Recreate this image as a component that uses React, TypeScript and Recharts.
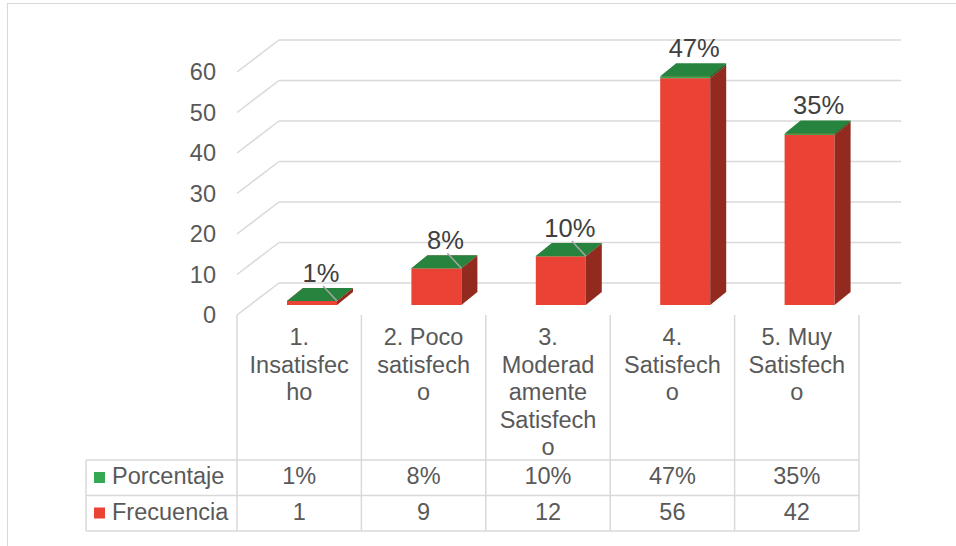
import { BarChart, Bar, XAxis, YAxis, CartesianGrid, LabelList } from "recharts";

// ── Data ──────────────────────────────────────────────────────────
const CATEGORIES = [
  "1. Insatisfecho",
  "2. Poco satisfecho",
  "3. Moderadamente Satisfecho",
  "4. Satisfecho",
  "5. Muy Satisfecho",
];
// category text as it wraps inside the data-table header cells
const CATEGORY_LINES = [
  ["1.", "Insatisfec", "ho"],
  ["2. Poco", "satisfech", "o"],
  ["3.", "Moderad", "amente", "Satisfech", "o"],
  ["4.", "Satisfech", "o"],
  ["5. Muy", "Satisfech", "o"],
];
const FRECUENCIA = [1, 9, 12, 56, 42];
const PORCENTAJE = [0.01, 0.08, 0.1, 0.47, 0.35];
const Y_TICKS = [0, 10, 20, 30, 40, 50, 60];

const data = CATEGORIES.map((name, i) => ({
  name,
  frecuencia: FRECUENCIA[i],
  porcentaje: PORCENTAJE[i],
}));

// ── Layout / style ────────────────────────────────────────────────
const W = 956;
const H = 546;
const PLOT_LEFT = 237;
const PLOT_RIGHT = 859;
const PLOT_TOP = 72;
const PLOT_BOTTOM = 315;
const COL_W = (PLOT_RIGHT - PLOT_LEFT) / CATEGORIES.length;
const LEGEND_W = 151;

const FONT = "'Liberation Sans', Arial, sans-serif";
const TEXT = "#595959";
const LINE = "#D9D9D9";
const FS = 23.5;

// oblique 3D projection: full floor depth, bar front offset, bar depth
const WALL = { x: 42, y: -32 };
const FRONT = { x: 13, y: -10 };
const DEPTH = { x: 16, y: -13 };

const RED = "#EA4335";
const RED_SIDE = "#932A20";
const GREEN = "#34A853";
const GREEN_SIDE = "#1E6330";
const GREEN_TOP = "#27843E";

// labels that keep a leader line to their column
const LEADER_INDEX = [0, 1, 2];

const pct = (v: number) => `${Math.round(v * 100)}%`;

// ── 3D column box ─────────────────────────────────────────────────
function makeBox(face: string, side: string, top: string) {
  return (props: any) => {
    const { x, y, width, height } = props;
    if (x == null || y == null) return <g />;
    const h = Math.max(height, 0);
    const fx = x + FRONT.x;
    const fy = y + FRONT.y;
    const sidePts = [
      [fx + width, fy],
      [fx + width + DEPTH.x, fy + DEPTH.y],
      [fx + width + DEPTH.x, fy + DEPTH.y + h],
      [fx + width, fy + h],
    ];
    const topPts = [
      [fx, fy],
      [fx + DEPTH.x, fy + DEPTH.y],
      [fx + width + DEPTH.x, fy + DEPTH.y],
      [fx + width, fy],
    ];
    const toStr = (p: number[][]) => p.map((q) => q.join(",")).join(" ");
    return (
      <g>
        <rect x={fx} y={fy} width={width} height={h} fill={face} />
        <polygon points={toStr(sidePts)} fill={side} />
        <polygon points={toStr(topPts)} fill={top} />
      </g>
    );
  };
}

const FrecuenciaBox = makeBox(RED, RED_SIDE, RED);
const PorcentajeBox = makeBox(GREEN, GREEN_SIDE, GREEN_TOP);

// ── Percentage label above each column ────────────────────────────
function TopLabel(props: any) {
  const { x, y, width, value, index } = props;
  const fx = x + FRONT.x;
  const fy = y + FRONT.y;
  const cx = fx + width / 2 + 9;
  const cy = fy - 28;
  return (
    <g>
      {LEADER_INDEX.includes(index) && (
        <line
          x1={fx + width / 2 + 11}
          y1={fy - 15}
          x2={fx + width}
          y2={fy}
          stroke="#A6A6A6"
          strokeWidth={1.5}
        />
      )}
      <text
        x={cx}
        y={cy + 9}
        textAnchor="middle"
        fontSize={25.5}
        fill="#404040"
        fontFamily={FONT}
      >
        {pct(value)}
      </text>
    </g>
  );
}

// ── Back wall gridline + left wall diagonal ───────────────────────
function GridLine(props: any) {
  const { x1, x2, y1, index } = props;
  return (
    <g key={`grid-${index}-${y1}`}>
      <line
        x1={x1}
        y1={y1}
        x2={x1 + WALL.x}
        y2={y1 + WALL.y}
        stroke={LINE}
        strokeWidth={1.5}
      />
      <line
        x1={x1 + WALL.x}
        y1={y1 + WALL.y}
        x2={x2 + WALL.x}
        y2={y1 + WALL.y}
        stroke={LINE}
        strokeWidth={1.5}
      />
    </g>
  );
}

// ── Category header + data table cells ────────────────────────────
const HEADER_H = 145;
const ROW_H = 35.5;

function TableTick(props: any) {
  const { x, y, index } = props;
  const left = x - COL_W / 2;
  const right = x + COL_W / 2;
  const rowTop = y + HEADER_H;
  const rowMid = rowTop + ROW_H;
  const rowBottom = rowMid + ROW_H;
  const lines = CATEGORY_LINES[index] || [];
  const textProps = { fontSize: FS, fill: TEXT, fontFamily: FONT, textAnchor: "middle" as const };
  return (
    <g>
      <line x1={left} y1={y} x2={left} y2={rowBottom} stroke={LINE} strokeWidth={1.5} />
      {index === CATEGORIES.length - 1 && (
        <line x1={right} y1={y} x2={right} y2={rowBottom} stroke={LINE} strokeWidth={1.5} />
      )}
      {lines.map((ln, i) => (
        <text key={i} x={x} y={y + 30 + i * 27.5} {...textProps}>
          {ln}
        </text>
      ))}
      <text x={x} y={rowTop + 24} {...textProps}>
        {pct(PORCENTAJE[index])}
      </text>
      <text x={x} y={rowMid + 24} {...textProps}>
        {FRECUENCIA[index]}
      </text>

      {index === 0 && (
        <g>
          <line x1={left - LEGEND_W} y1={rowTop} x2={left - LEGEND_W} y2={rowBottom} stroke={LINE} strokeWidth={1.5} />
          {[rowTop, rowMid, rowBottom].map((ry) => (
            <line
              key={ry}
              x1={left - LEGEND_W}
              y1={ry}
              x2={PLOT_RIGHT}
              y2={ry}
              stroke={LINE}
              strokeWidth={1.5}
            />
          ))}
          <rect x={left - LEGEND_W + 8} y={rowTop + 12} width={11} height={11} fill={GREEN} />
          <text x={left - LEGEND_W + 26} y={rowTop + 24} fontSize={FS} fill={TEXT} fontFamily={FONT}>
            Porcentaje
          </text>
          <rect x={left - LEGEND_W + 8} y={rowMid + 12} width={11} height={11} fill={RED} />
          <text x={left - LEGEND_W + 26} y={rowMid + 24} fontSize={FS} fill={TEXT} fontFamily={FONT}>
            Frecuencia
          </text>
        </g>
      )}
    </g>
  );
}

export default function App() {
  return (
    <div
      style={{
        position: "absolute",
        left: 0,
        top: 0,
        width: W,
        height: H,
        overflow: "hidden",
        background: "#fff",
      }}
    >
      <div
        style={{
          position: "absolute",
          left: 7,
          top: 3,
          width: W + 50,
          height: H + 50,
          borderLeft: `1.5px solid ${LINE}`,
          borderTop: `1.5px solid ${LINE}`,
        }}
      />
      <div style={{ position: "absolute", left: 0, top: 0 }}>
        <BarChart
          width={W}
          height={H}
          data={data}
          margin={{ top: PLOT_TOP, right: W - PLOT_RIGHT, bottom: 0, left: 0 }}
          style={{ fontFamily: FONT }}
        >
          <CartesianGrid vertical={false} horizontal={GridLine as any} />
          <XAxis
            dataKey="name"
            height={H - PLOT_BOTTOM}
            axisLine={false}
            tickLine={false}
            tickSize={0}
            tickMargin={0}
            interval={0}
            tick={TableTick}
          />
          <YAxis
            width={PLOT_LEFT}
            domain={[0, 60]}
            ticks={Y_TICKS}
            axisLine={false}
            tickLine={false}
            tickSize={0}
            tickMargin={21}
            tick={{ fontSize: FS, fill: TEXT, fontFamily: FONT }}
          />
          <Bar
            dataKey="frecuencia"
            stackId="s"
            barSize={50}
            fill={RED}
            shape={FrecuenciaBox}
            isAnimationActive={false}
          />
          <Bar
            dataKey="porcentaje"
            stackId="s"
            barSize={50}
            fill={GREEN}
            shape={PorcentajeBox}
            isAnimationActive={false}
          >
            <LabelList dataKey="porcentaje" content={TopLabel} />
          </Bar>
        </BarChart>
      </div>
    </div>
  );
}
